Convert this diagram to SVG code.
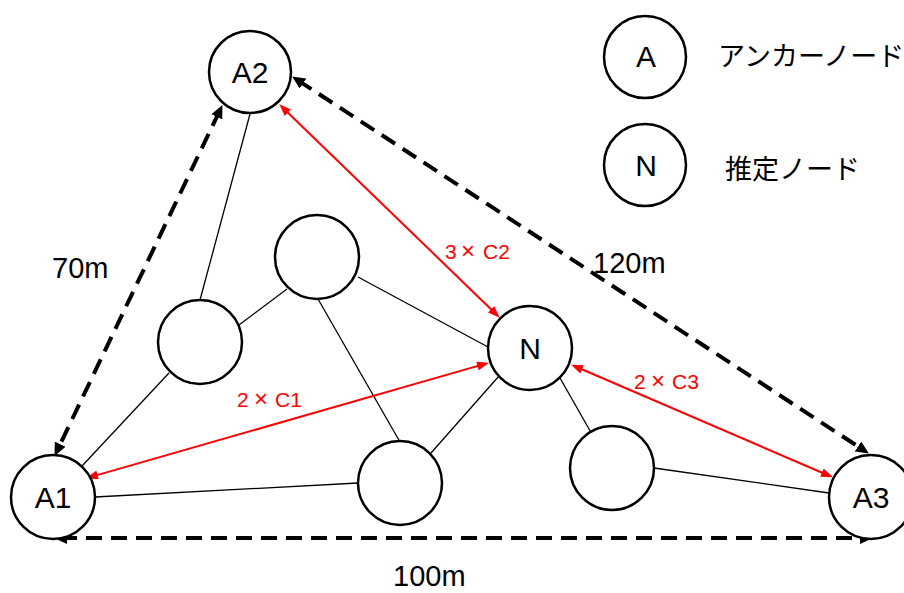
<svg xmlns="http://www.w3.org/2000/svg" width="904" height="593" viewBox="0 0 904 593">
  <style>
    .node { fill: #fff; stroke: #000; stroke-width: 2.5; }
    .lbl { font-family: "Liberation Sans", Arial, sans-serif; font-size: 30px; fill: #000; text-anchor: middle; }
    .dist { font-family: "Liberation Sans", Arial, sans-serif; font-size: 29px; fill: #000; }
    .cost { font-family: "Liberation Sans", Arial, sans-serif; font-size: 21px; fill: #ff0000; }
    .times { font-size: 24px; }
    .jp { font-family: "Noto Sans CJK JP", "Noto Sans CJK SC", sans-serif; font-size: 27px; fill: #000; }
    .link { stroke: #000; stroke-width: 1.3; fill: none; }
    .range { stroke: #ff0000; stroke-width: 2; fill: none; marker-start: url(#redHead); marker-end: url(#redHead); }
    .dist-line { stroke: #000; stroke-width: 4; stroke-dasharray: 16 9; fill: none; marker-start: url(#blackHead); marker-end: url(#blackHead); }
  </style>
  <defs>
    <marker id="redHead" markerUnits="userSpaceOnUse" viewBox="0 0 12 9" refX="6" refY="4.5" markerWidth="12" markerHeight="9" orient="auto-start-reverse">
      <path d="M0,0 L12,4.5 L0,9 z" fill="#ff0000"/>
    </marker>
    <marker id="blackHead" markerUnits="userSpaceOnUse" viewBox="0 0 13 12" refX="6" refY="6" markerWidth="13" markerHeight="12" orient="auto-start-reverse">
      <path d="M0,0 L13,6 L0,12 z" fill="#000"/>
    </marker>
  </defs>

  <!-- network links between nodes -->
  <g id="connectors">
    <line class="link" x1="250" y1="114" x2="200" y2="300"/>
    <line class="link" x1="239" y1="325" x2="287" y2="289"/>
    <line class="link" x1="169" y1="373" x2="82" y2="466"/>
    <line class="link" x1="318" y1="299" x2="400" y2="442"/>
    <line class="link" x1="358" y1="277" x2="488" y2="347"/>
    <line class="link" x1="431" y1="453" x2="499" y2="376"/>
    <line class="link" x1="95" y1="497" x2="358" y2="483"/>
    <line class="link" x1="560" y1="378" x2="593" y2="436"/>
    <line class="link" x1="654" y1="468" x2="829" y2="493"/>

    <!-- measured ranges (red) -->
    <line class="range" x1="283.6" y1="108.5" x2="495.4" y2="313.5"/>
    <line class="range" x1="91.8" y1="476.6" x2="483.2" y2="364.4"/>
    <line class="range" x1="576.6" y1="367" x2="827.4" y2="475"/>

    <!-- known anchor distances (dashed) -->
    <line class="dist-line" x1="219.4" y1="111.4" x2="57.6" y2="449.6"/>
    <line class="dist-line" x1="298" y1="80.3" x2="863" y2="449.7"/>
    <line class="dist-line" x1="61" y1="538" x2="866" y2="538"/>
  </g>

  <!-- edge labels -->
  <g id="labels">
    <text class="dist" x="52" y="278">70m</text>
    <text class="dist" x="593" y="273">120m</text>
    <text class="dist" x="393" y="586">100m</text>
    <text class="cost" x="445" y="259">3<tspan class="times" x="461">×</tspan><tspan x="483">C2</tspan></text>
    <text class="cost" x="237" y="407">2<tspan class="times" x="254">×</tspan><tspan x="275">C1</tspan></text>
    <text class="cost" x="634" y="389">2<tspan class="times" x="651">×</tspan><tspan x="672">C3</tspan></text>
  </g>

  <g id="A2"><circle class="node" cx="250" cy="72" r="41"/><text class="lbl" x="250" y="83">A2</text></g>
  <g id="A1"><circle class="node" cx="53" cy="497" r="42"/><text class="lbl" x="53" y="508">A1</text></g>
  <g id="A3"><circle class="node" cx="871" cy="497" r="42"/><text class="lbl" x="871" y="508">A3</text></g>
  <g id="N"><circle class="node" cx="530" cy="348" r="42"/><text class="lbl" x="530" y="359">N</text></g>
  <g id="node1"><circle class="node" cx="200" cy="342" r="42"/></g>
  <g id="node2"><circle class="node" cx="317" cy="257" r="42"/></g>
  <g id="node3"><circle class="node" cx="400" cy="483" r="42"/></g>
  <g id="node4"><circle class="node" cx="612" cy="468" r="42"/></g>

  <!-- legend -->
  <g id="legend-anchor">
    <circle class="node" cx="645" cy="57" r="41"/>
    <text class="lbl" x="646" y="67">A</text>
    <text class="jp" x="718" y="66">アンカーノード</text>
  </g>
  <g id="legend-estimate">
    <circle class="node" cx="645" cy="165" r="41"/>
    <text class="lbl" x="646" y="176">N</text>
    <text class="jp" x="725" y="179">推定ノード</text>
  </g>
</svg>
